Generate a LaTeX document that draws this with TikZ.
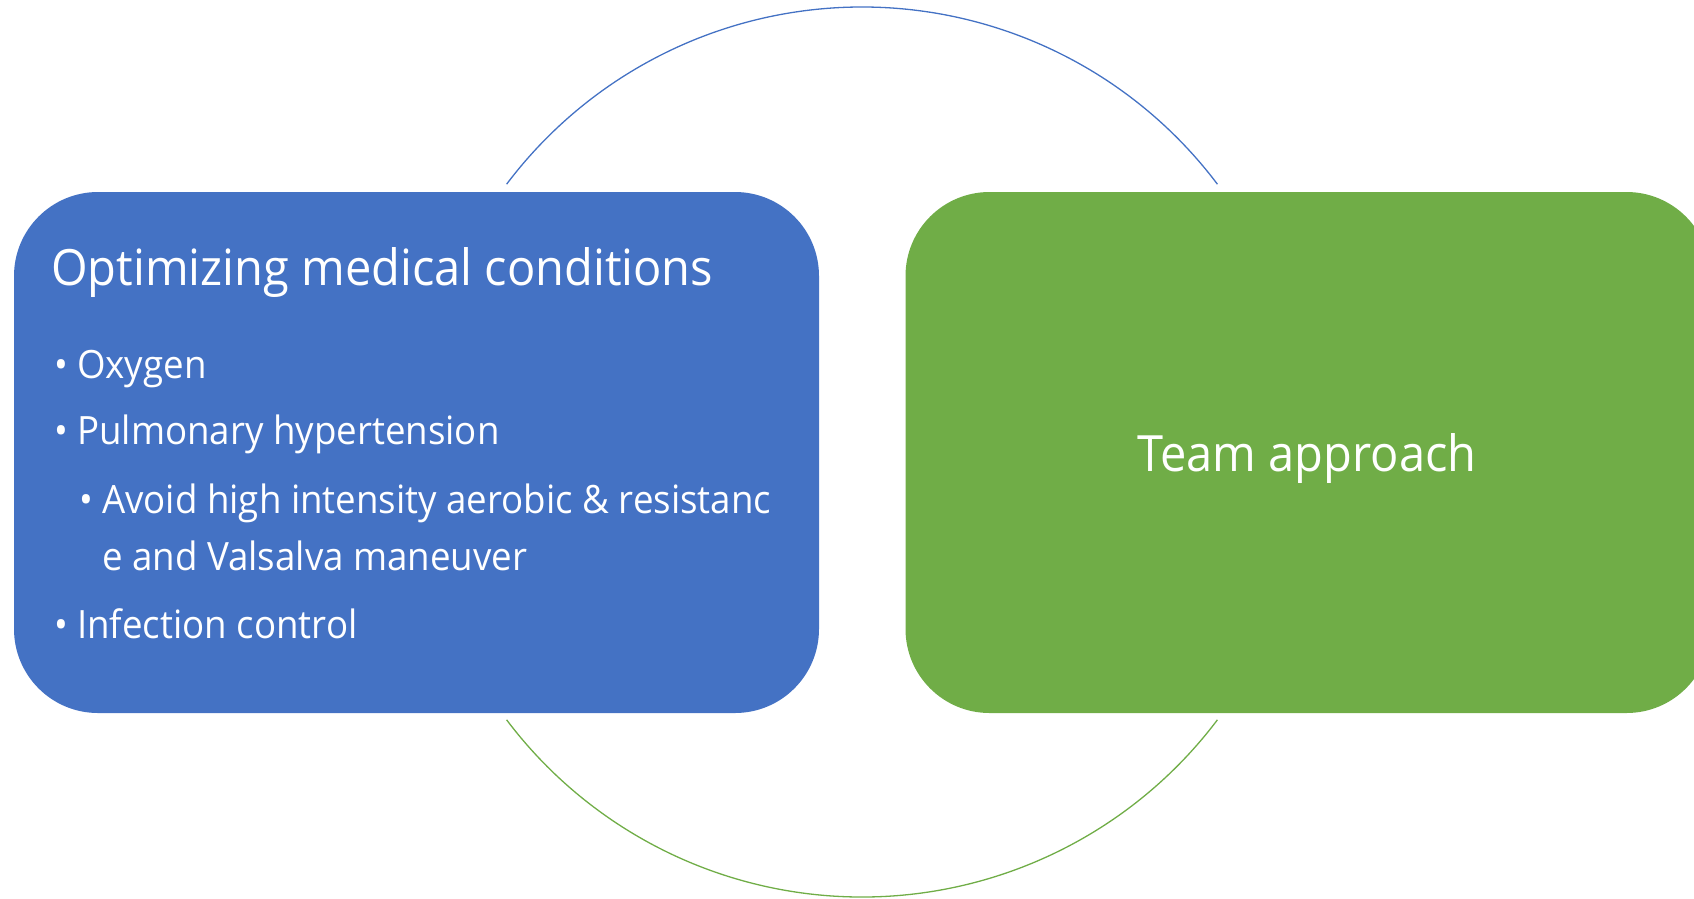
\documentclass[tikz,border=0pt]{standalone}
\usepackage{fontspec}
\setmainfont{Open Sans}[FakeStretch=0.94]
\usepackage{xcolor}
\definecolor{boxblue}{HTML}{4472C4}
\definecolor{boxgreen}{HTML}{70AD47}
\newcommand\dotmark{\makebox[23pt][l]{\textbullet}}
\tikzset{
  panel/.style={rounded corners=84pt, minimum width=805pt, minimum height=521pt, inner sep=0pt},
  heading/.style={text=white, anchor=base west, inner sep=0pt, font=\fontsize{50}{60}\selectfont},
  item/.style={text=white, anchor=base west, inner sep=0pt, font=\fontsize{39}{47}\selectfont},
  ring/.style={line width=1.3pt}
}
\begin{document}
\begin{tikzpicture}[x=1pt,y=-1pt]
  \clip (0,0) rectangle (1694,898);
  \coordinate (hub) at (862,452);
  % circle behind the two panels
  \draw[ring, boxblue] (hub) ++(-37:445) arc[start angle=-37, end angle=-143, radius=445];
  \draw[ring, boxgreen] (hub) ++(37:445) arc[start angle=37, end angle=143, radius=445];
  % panels
  \node[panel, fill=boxblue] (medical) at (416.5,452.5) {};
  \node[panel, fill=boxgreen] (team) at (1308,452.5) {};
  % left panel text
  \node[heading] (medtitle) at (51,285) {Optimizing medical conditions};
  \node[item] (oxygen) at (54,378) {\dotmark Oxygen};
  \node[item] (pulmonary) at (54,444) {\dotmark Pulmonary hypertension};
  \node[item] (avoid) at (79,513) {\dotmark Avoid high intensity aerobic \& resistanc};
  \node[item] (avoidrest) at (102,570) {e and Valsalva maneuver};
  \node[item] (infection) at (54,638) {\dotmark Infection control};
  % right panel text
  \node[heading, anchor=base] (teamtitle) at (1307,471) {Team approach};
\end{tikzpicture}
\end{document}
